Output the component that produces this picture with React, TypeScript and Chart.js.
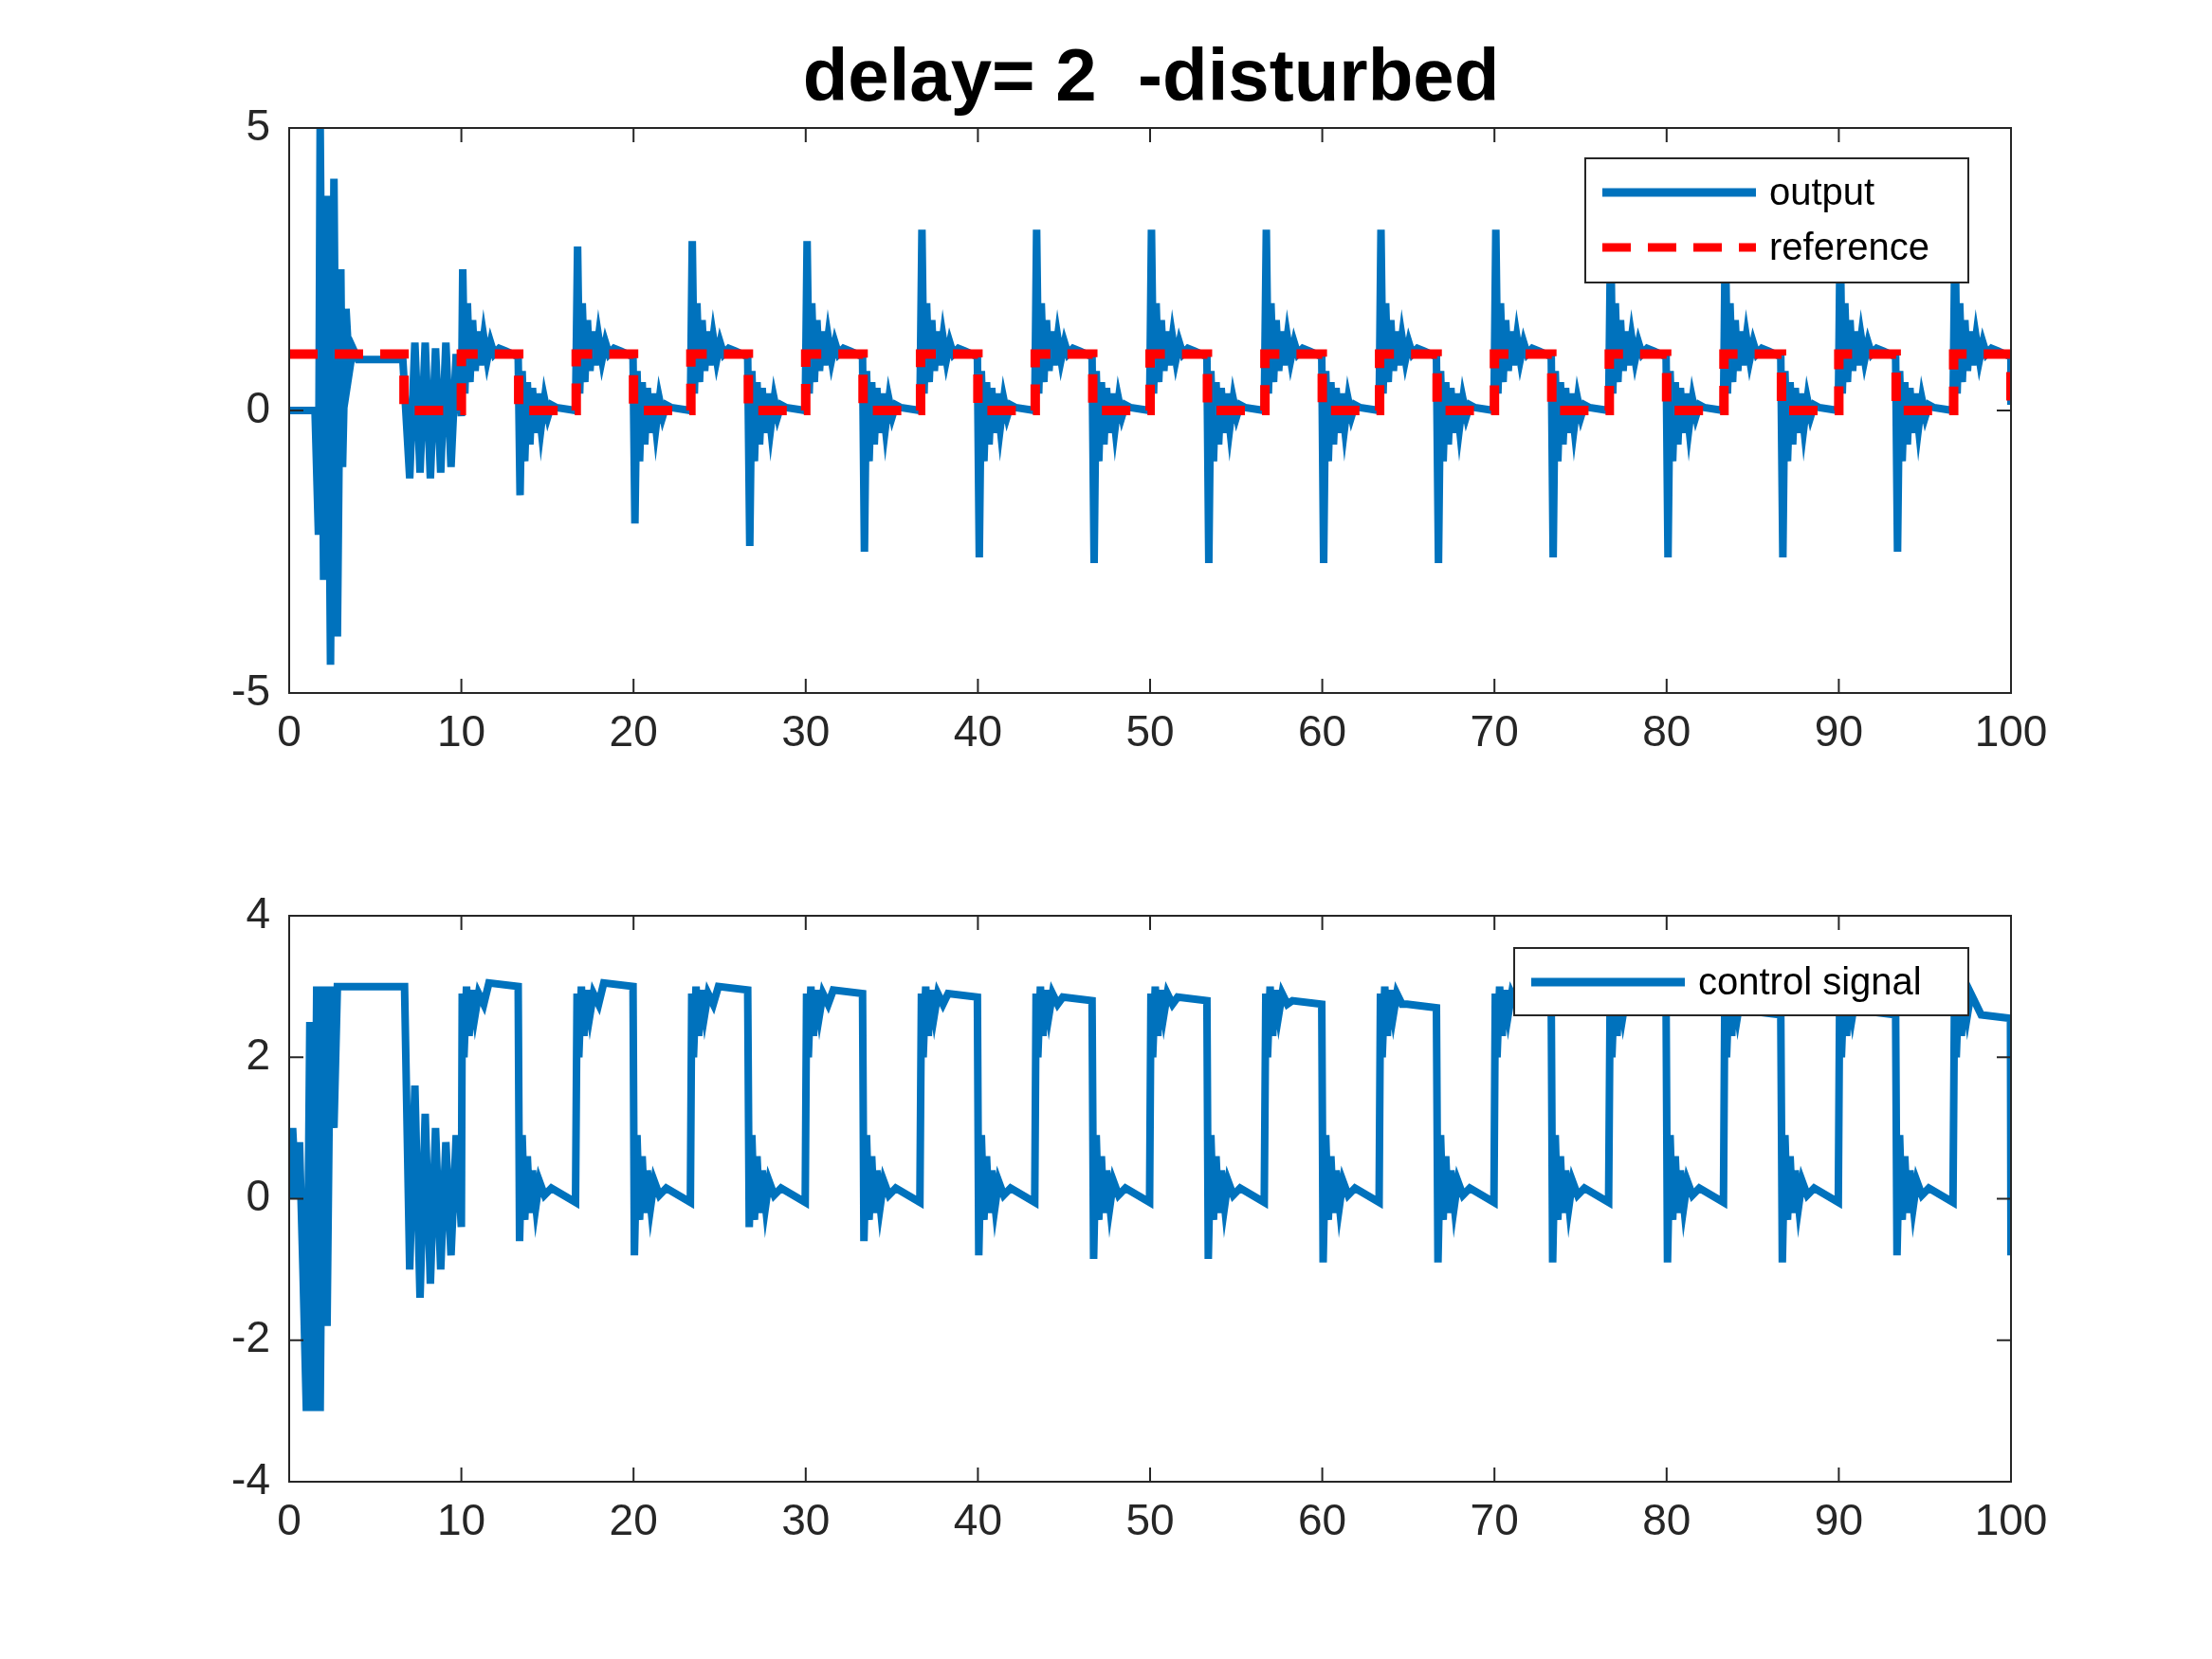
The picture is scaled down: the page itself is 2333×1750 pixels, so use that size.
import { useEffect, useRef } from 'react';
import { Chart, registerables } from 'chart.js';

Chart.register(...registerables);

const BLUE = '#0072BD';
const FONT = '"Liberation Sans", Arial, sans-serif';

// reference switching times
const riseTimes = [10, 16.67, 23.33, 30, 36.67, 43.33, 50, 56.67, 63.33, 70, 76.67, 83.33, 90, 96.67];
const fallTimes = [13.33, 20, 26.67, 33.33, 40, 46.67, 53.33, 60, 66.67, 73.33, 80, 86.67, 93.33];
// output peaks / troughs per edge
const outPeaks = [2.5, 2.9, 3.0, 3.0, 3.2, 3.2, 3.2, 3.2, 3.2, 3.2, 3.2, 3.2, 3.2, 3.2];
const outTroughs = [-1.5, -2.0, -2.4, -2.5, -2.6, -2.7, -2.7, -2.7, -2.7, -2.6, -2.6, -2.6, -2.5];
// control plateau level at end of high phase, and troughs at falling edges
const ctrlPlateau = [3.0, 3.0, 2.95, 2.9, 2.85, 2.8, 2.8, 2.75, 2.7, 2.7, 2.65, 2.6, 2.6, 2.55];
const ctrlTroughs = [-0.6, -0.8, -0.4, -0.6, -0.8, -0.85, -0.85, -0.9, -0.9, -0.9, -0.9, -0.9, -0.8];

// start-up transients
const outStart: [number, number][] = [[0, 0], [1.5, 0], [1.7, -2.2], [1.8, 5.1], [2.0, -3.0], [2.2, 3.8], [2.4, -4.5], [2.6, 4.1], [2.8, -4.0], [3.0, 2.5], [3.1, -1.0], [3.3, 1.8], [3.5, 0.7], [3.7, 1.1], [4, 0.9], [6.6, 0.9], [7.0, -1.2], [7.3, 1.2], [7.6, -1.1], [7.9, 1.2], [8.2, -1.2], [8.5, 1.1], [8.8, -1.1], [9.1, 1.2], [9.4, -1.0], [9.7, 1.0], [10, -0.1]];
const ctrlStart: [number, number][] = [[0, 0], [0.2, 1.0], [0.4, 0], [0.6, 0.8], [0.8, -1], [1.0, -3], [1.2, 2.5], [1.4, -3], [1.6, 3], [1.8, -3], [2.0, 3], [2.2, -1.8], [2.4, 3], [2.6, 1], [2.8, 3], [6.7, 3], [7.0, -1], [7.3, 1.6], [7.6, -1.4], [7.9, 1.2], [8.2, -1.2], [8.5, 1.0], [8.8, -1.0], [9.1, 0.8], [9.4, -0.8], [9.7, 0.9], [10, -0.4]];

// ringing shapes after an edge (time offset, value); first value replaced per edge
const outRise = [[0.08, 0], [0.2, 0.3], [0.35, 1.9], [0.5, 0.5], [0.65, 1.6], [0.8, 0.7], [0.95, 1.4], [1.1, 0.8], [1.3, 1.3], [1.5, 0.9], [1.7, 1.2], [1.9, 1.0], [2.2, 1.1], [2.6, 1.05], [3.3, 0.95]];
const outFall = [[0.08, 0], [0.2, 0.7], [0.35, -0.9], [0.5, 0.5], [0.65, -0.6], [0.8, 0.4], [0.95, -0.4], [1.1, 0.3], [1.3, -0.3], [1.5, 0.2], [1.7, -0.1], [1.9, 0.1], [2.2, 0.05], [3.3, 0.0]];
const ctrlRise = [[0.05, 2.9], [0.15, 2.0], [0.3, 3.0], [0.45, 2.3], [0.6, 2.95], [0.8, 2.6], [1.0, 2.9], [1.3, 2.75], [1.6, 0], [3.3, 0]];
const ctrlFall = [[0.05, 0], [0.2, 0.9], [0.35, -0.3], [0.5, 0.6], [0.65, -0.2], [0.8, 0.4], [1.0, -0.1], [1.2, 0.25], [1.5, 0.05], [1.9, 0.15], [3.3, -0.05]];

function buildOutput() {
  const pts = outStart.map(([x, y]) => ({ x, y }));
  riseTimes.forEach((t, i) => {
    outRise.forEach(([d, v], k) => pts.push({ x: t + d, y: k === 0 ? outPeaks[i] : v }));
    if (i < fallTimes.length) {
      const f = fallTimes[i];
      outFall.forEach(([d, v], k) => pts.push({ x: f + d, y: k === 0 ? outTroughs[i] : v }));
    }
  });
  pts.push({ x: 100, y: 0.9 }, { x: 100, y: 0.1 });
  return pts.filter(p => p.x <= 100);
}

function buildControl() {
  const pts = ctrlStart.map(([x, y]) => ({ x, y }));
  riseTimes.forEach((t, i) => {
    ctrlRise.forEach(([d, v], k) => {
      let y = v;
      if (k === 8) y = ctrlPlateau[i] + 0.05;
      if (k === 9) y = ctrlPlateau[i];
      pts.push({ x: t + d, y });
    });
    if (i < fallTimes.length) {
      const f = fallTimes[i];
      ctrlFall.forEach(([d, v], k) => pts.push({ x: f + d, y: k === 0 ? ctrlTroughs[i] : v }));
    }
  });
  pts.push({ x: 100, y: -0.8 }, { x: 100, y: 0 });
  return pts.filter(p => p.x <= 100);
}

function buildReference() {
  const pts = [{ x: 0, y: 1 }, { x: 6.67, y: 1 }, { x: 6.67, y: 0 }];
  riseTimes.forEach((t, i) => {
    pts.push({ x: t, y: 0 }, { x: t, y: 1 });
    const f = i < fallTimes.length ? fallTimes[i] : 100;
    pts.push({ x: f, y: 1 }, { x: f, y: 0 });
  });
  return pts;
}

const boxTicks = {
  id: 'boxTicks',
  afterDatasetsDraw(chart: any) {
    const { ctx, chartArea: a, scales } = chart;
    ctx.save();
    ctx.strokeStyle = '#262626';
    ctx.lineWidth = 2;
    ctx.strokeRect(a.left, a.top, a.right - a.left, a.bottom - a.top);
    const L = 15;
    scales.x.ticks.forEach((t: any) => {
      const px = scales.x.getPixelForValue(t.value);
      ctx.beginPath();
      ctx.moveTo(px, a.bottom); ctx.lineTo(px, a.bottom - L);
      ctx.moveTo(px, a.top); ctx.lineTo(px, a.top + L);
      ctx.stroke();
    });
    scales.y.ticks.forEach((t: any) => {
      const py = scales.y.getPixelForValue(t.value);
      ctx.beginPath();
      ctx.moveTo(a.left, py); ctx.lineTo(a.left + L, py);
      ctx.moveTo(a.right, py); ctx.lineTo(a.right - L, py);
      ctx.stroke();
    });
    const opt = chart.options.plugins.boxTicks;
    if (opt.title) {
      ctx.fillStyle = '#000';
      ctx.font = `bold 78px ${FONT}`;
      ctx.textAlign = 'center';
      ctx.textBaseline = 'middle';
      ctx.fillText(opt.title, 1214, 84);
    }
    // legend
    const lg = opt.legend;
    ctx.fillStyle = '#fff';
    ctx.fillRect(lg.x, lg.y, lg.w, lg.h);
    ctx.strokeStyle = '#262626';
    ctx.lineWidth = 2;
    ctx.strokeRect(lg.x, lg.y, lg.w, lg.h);
    ctx.font = `40px ${FONT}`;
    ctx.textAlign = 'left';
    ctx.textBaseline = 'middle';
    lg.items.forEach((it: any, i: number) => {
      const cy = lg.y + 36 + i * 58;
      ctx.strokeStyle = it.color;
      ctx.lineWidth = 9;
      ctx.setLineDash(it.dash || []);
      ctx.beginPath();
      ctx.moveTo(lg.x + 18, cy); ctx.lineTo(lg.x + 180, cy);
      ctx.stroke();
      ctx.setLineDash([]);
      ctx.fillStyle = '#000';
      ctx.fillText(it.label, lg.x + 194, cy + 2);
    });
    ctx.restore();
  },
};

function makeConfig(datasets: any[], yMin: number, yMax: number, step: number, padTop: number, padBottom: number, plug: any): any {
  return {
    type: 'line',
    data: { datasets },
    plugins: [boxTicks],
    options: {
      animation: false,
      responsive: false,
      layout: { padding: { left: 185, right: 212, top: padTop, bottom: padBottom } },
      plugins: { legend: { display: false }, tooltip: { enabled: false }, boxTicks: plug },
      elements: { point: { radius: 0 } },
      scales: {
        x: {
          type: 'linear', min: 0, max: 100,
          ticks: { stepSize: 10, color: '#262626', font: { family: FONT, size: 46 }, padding: 8, maxRotation: 0 },
          grid: { display: false }, border: { display: false },
          afterFit: (s: any) => { s.height = 100; },
        },
        y: {
          min: yMin, max: yMax,
          ticks: { stepSize: step, color: '#262626', font: { family: FONT, size: 46 }, padding: 12 },
          grid: { display: false }, border: { display: false },
          afterFit: (s: any) => { s.width = 120; },
        },
      },
    },
  };
}

export default function App() {
  const topRef = useRef<HTMLCanvasElement>(null);
  const botRef = useRef<HTMLCanvasElement>(null);

  useEffect(() => {
    document.body.style.margin = '0';
    const top = new Chart(topRef.current!, makeConfig([
      { data: buildReference(), borderColor: '#FF0000', borderWidth: 10, borderDash: [30, 18], fill: false, order: 0 },
      { data: buildOutput(), borderColor: BLUE, borderWidth: 8, fill: false, order: 1 },
    ], -5, 5, 5, 135, 44, {
      title: 'delay= 2  -disturbed',
      legend: { x: 1672, y: 167, w: 404, h: 131, items: [
        { label: 'output', color: BLUE },
        { label: 'reference', color: '#FF0000', dash: [30, 18] },
      ] },
    }));
    const bot = new Chart(botRef.current!, makeConfig([
      { data: buildControl(), borderColor: BLUE, borderWidth: 8, fill: false },
    ], -4, 4, 2, 91, 87, {
      legend: { x: 1597, y: 1000 - 875, w: 479, h: 71, items: [
        { label: 'control signal', color: BLUE },
      ] },
    }));
    return () => { top.destroy(); bot.destroy(); };
  }, []);

  return (
    <div style={{ position: 'relative', width: 2333, height: 1750, background: '#fff' }}>
      <canvas ref={topRef} width={2333} height={875} style={{ position: 'absolute', left: 0, top: 0 }} />
      <canvas ref={botRef} width={2333} height={875} style={{ position: 'absolute', left: 0, top: 875 }} />
    </div>
  );
}
